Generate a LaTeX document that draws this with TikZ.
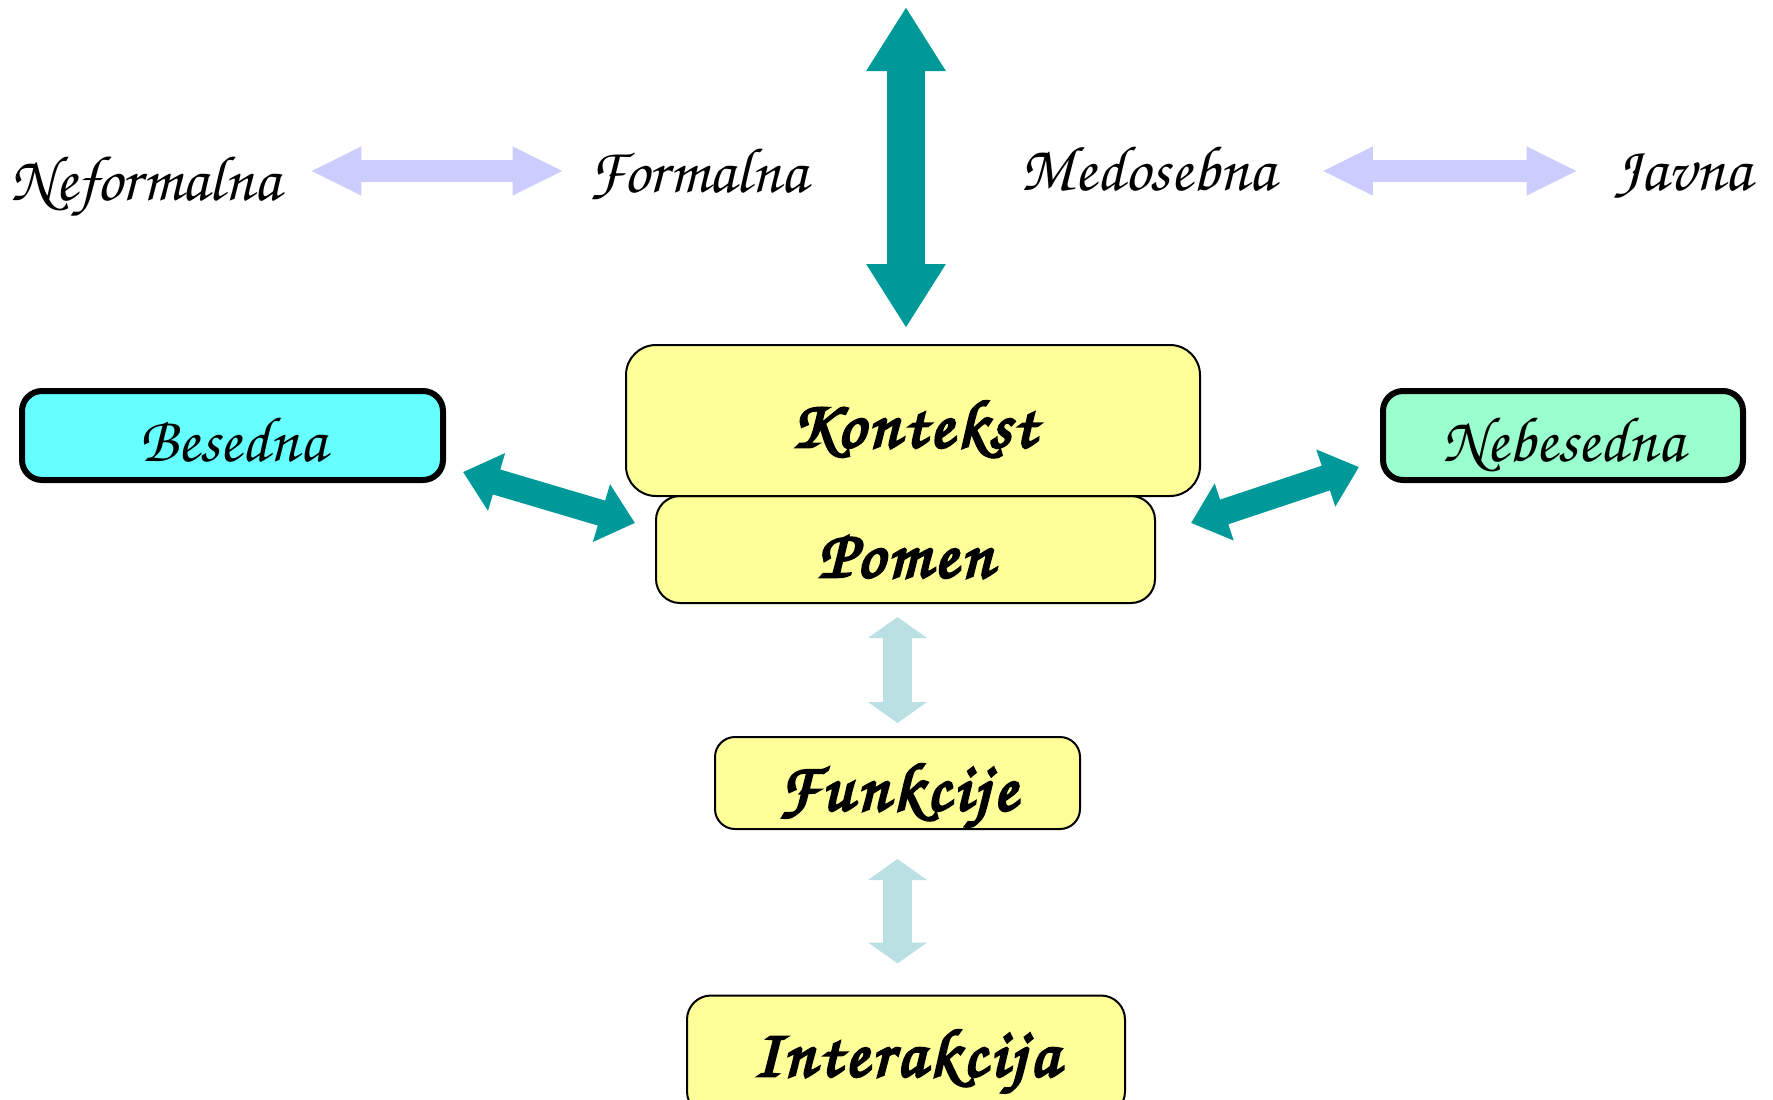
\documentclass[tikz,border=0pt]{standalone}
\usepackage{fontspec}
\usetikzlibrary{arrows.meta,calc}
\newfontfamily\corsiva{texgyrechorus-mediumitalic.otf}
\newfontfamily\corsivabold[FakeBold=4,LetterSpace=6]{texgyrechorus-mediumitalic.otf}
\definecolor{tealarr}{RGB}{0,153,153}
\definecolor{lavarr}{RGB}{204,204,255}
\definecolor{palearr}{RGB}{187,224,227}
\definecolor{boxyellow}{RGB}{255,255,153}
\definecolor{boxcyan}{RGB}{102,255,255}
\definecolor{boxmint}{RGB}{153,255,204}

\begin{document}
\begin{tikzpicture}[x=0.5pt,y=-0.5pt,
	word/.style={inner sep=0pt,anchor=base,font=\corsiva\fontsize{32}{32}\selectfont},
	yellowbox/.style={draw=black,line width=1pt,fill=boxyellow,inner sep=0pt,text depth=0pt,font=\corsivabold\fontsize{34}{34}\selectfont},
	kindbox/.style={draw=black,line width=3pt,rounded corners=10pt,inner sep=0pt,text depth=0pt,text height=25.5pt,minimum width=210.5pt,minimum height=44.5pt,font=\corsiva\fontsize{32}{32}\selectfont},
	bigteal/.style={draw=tealarr,line width=18.8pt,{Triangle[width=37.5pt,length=32pt]}-{Triangle[width=37.5pt,length=32pt]}},
	midteal/.style={draw=tealarr,line width=13pt,{Triangle[width=29pt,length=17.5pt]}-{Triangle[width=29pt,length=17.5pt]}},
	lavline/.style={draw=lavarr,line width=11.2pt,{Triangle[width=22.5pt,length=25.5pt]}-{Triangle[width=22.5pt,length=25.5pt]}},
	paleline/.style={draw=palearr,line width=14.7pt,{Triangle[width=29pt,length=10.5pt]}-{Triangle[width=29pt,length=10.5pt]}}
	]
	\useasboundingbox (0,0) rectangle (1773,1099);
	\node [word,minimum width=135.5pt] (nef) at (145.5,200) {Neformalna};
	\node [word,minimum width=110pt] (form) at (698,192) {Formalna};
	\node [word,minimum width=126pt] (medo) at (1148,190) {Medosebna};
	\node [word,minimum width=69pt] (javna) at (1683,190) {Javna};
	\node [yellowbox,rounded corners=12pt,text height=27.5pt,minimum width=249.5pt,minimum height=53.5pt] (pomen) at (905.5,549.5) {Pomen};
	\node [yellowbox,rounded corners=15pt,text height=26.5pt,minimum width=287pt,minimum height=75.5pt] (kontekst) at (913,420.5) {Kontekst};
	\node [yellowbox,rounded corners=10pt,text height=27pt,minimum width=182.5pt,minimum height=46pt] (funkcije) at (897.5,783) {Funkcije};
	\node [yellowbox,rounded corners=12pt,text height=20.5pt,minimum width=219pt,minimum height=60pt] (interakcija) at (906,1055.5) {Interakcija};
	\node [kindbox,fill=boxcyan] (besedna) at (232.5,435.5) {Besedna};
	\node [kindbox,fill=boxmint,minimum width=180pt] (nebesedna) at (1563,435.5) {Nebesedna};
	\coordinate (sky) at (906,7);
	\draw [bigteal,shorten >=8pt] (sky) -- (sky |- kontekst.north);
	\draw [lavline,shorten <=14.5pt,shorten >=12pt] (nef.east |- 0,171) -- (form.west |- 0,171);
	\draw [lavline,shorten <=23pt,shorten >=18pt] (medo.east |- 0,171) -- (javna.west |- 0,171);
	\draw [midteal] ([shift={(17,-11)}]besedna.south east) -- ([shift={(-20,-26.5)}]pomen.west);
	\draw [midteal] ([shift={(35,-26.5)}]pomen.east) -- ([shift={(-21,-16)}]nebesedna.south west);
	\draw [paleline,shorten <=6.5pt,shorten >=6.5pt] (pomen.south -| funkcije.north) -- (funkcije.north);
	\draw [paleline,shorten <=14.5pt,shorten >=15.5pt] (funkcije.south) -- (interakcija.north -| funkcije.south);
\end{tikzpicture}
\end{document}
